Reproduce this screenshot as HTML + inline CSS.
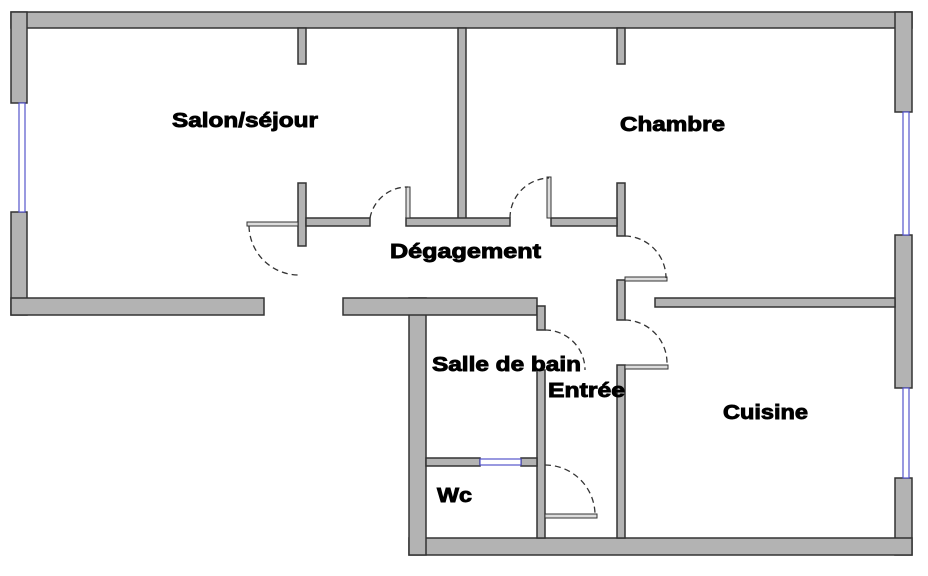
<!DOCTYPE html>
<html><head><style>
body{margin:0;background:#fff;width:928px;height:571px;overflow:hidden}
text{font-family:"Liberation Sans",sans-serif;font-weight:bold;font-size:20px;fill:#000;stroke:#000;stroke-width:0.9}
</style></head><body>
<svg width="928" height="571" viewBox="0 0 928 571" xmlns="http://www.w3.org/2000/svg">
<g fill="#b3b3b3" stroke="#333" stroke-width="1.5">
<rect x="11" y="12" width="901" height="16"/>
<rect x="11" y="12" width="16" height="91"/>
<rect x="11" y="212" width="16" height="103"/>
<rect x="11" y="298" width="253" height="17"/>
<rect x="895" y="12" width="17" height="100"/>
<rect x="895" y="235" width="17" height="153"/>
<rect x="895" y="478" width="17" height="77"/>
<rect x="409" y="538" width="503" height="17"/>
<rect x="409" y="298" width="17" height="257"/>
<rect x="343" y="298" width="194" height="17"/>
<rect x="655" y="298" width="240" height="9"/>
<rect x="458" y="28" width="8" height="192"/>
<rect x="298" y="28" width="8" height="36"/>
<rect x="298" y="183" width="8" height="63"/>
<rect x="617" y="28" width="8" height="36"/>
<rect x="617" y="183" width="8" height="53"/>
<rect x="306" y="218" width="64" height="8"/>
<rect x="406" y="218" width="104" height="8"/>
<rect x="551" y="218" width="66" height="8"/>
<rect x="617" y="280" width="8" height="40"/>
<rect x="617" y="365" width="8" height="173"/>
<rect x="537" y="306" width="8" height="24"/>
<rect x="537" y="370" width="8" height="168"/>
<rect x="426" y="458" width="54" height="8"/>
<rect x="521" y="458" width="16" height="8"/>
</g>
<g fill="#ddd" stroke="#333" stroke-width="1">
<rect x="247" y="222" width="51" height="4"/>
<rect x="406" y="187" width="4" height="31"/>
<rect x="547" y="177" width="4" height="41"/>
<rect x="625" y="277" width="42" height="4"/>
<rect x="625" y="365" width="43" height="4"/>
<rect x="545" y="514" width="52" height="4"/>
</g>
<g fill="#fff" stroke="#5555cc" stroke-width="1.2">
<rect x="19" y="103" width="6" height="109"/>
<rect x="903" y="112" width="6" height="123"/>
<rect x="903" y="388" width="6" height="90"/>
<rect x="480" y="459" width="41" height="6"/>
</g>
<g fill="none" stroke="#333" stroke-width="1.3" stroke-dasharray="6,4">
<path d="M249 226 A50 50 0 0 0 298 275"/>
<path d="M370 218 A38 38 0 0 1 408 187"/>
<path d="M510 218 A40 40 0 0 1 549 178"/>
<path d="M625 236 A42 42 0 0 1 666 278"/>
<path d="M625 320 A43 43 0 0 1 667 364"/>
<path d="M545 330 A40 40 0 0 1 585 370"/>
<path d="M545 465 A50 50 0 0 1 595 514"/>
</g>
<text x="172" y="127" textLength="146" lengthAdjust="spacingAndGlyphs">Salon/séjour</text>
<text x="620" y="131" textLength="105" lengthAdjust="spacingAndGlyphs">Chambre</text>
<text x="390" y="258" textLength="151" lengthAdjust="spacingAndGlyphs">Dégagement</text>
<text x="432" y="371" textLength="149" lengthAdjust="spacingAndGlyphs">Salle de bain</text>
<text x="548" y="397" textLength="77" lengthAdjust="spacingAndGlyphs">Entrée</text>
<text x="723" y="419" textLength="85" lengthAdjust="spacingAndGlyphs">Cuisine</text>
<text x="437" y="502" textLength="35" lengthAdjust="spacingAndGlyphs">Wc</text>
</svg>
</body></html>
